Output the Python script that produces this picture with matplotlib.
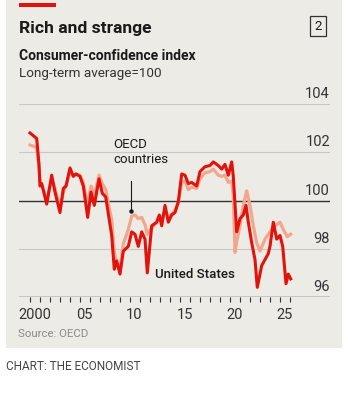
import matplotlib
matplotlib.use('Agg')
import matplotlib.pyplot as plt
import matplotlib.transforms as mtransforms
from matplotlib.patches import Rectangle

# readings (decimal year, index value)
us_years = [2000.0, 2000.67, 2000.9, 2001.0, 2001.17, 2001.67, 2002.17, 2002.5, 2003.0,
            2003.33, 2003.6, 2004.0, 2004.33, 2004.6, 2005.0, 2005.33, 2005.77, 2006.1,
            2006.43, 2006.9, 2007.23, 2007.57, 2008.17, 2008.43, 2008.67, 2009.0, 2009.33,
            2009.83, 2010.17, 2010.5, 2010.83, 2011.17, 2011.5, 2011.73, 2012.17, 2012.67,
            2012.93, 2013.17, 2013.5, 2013.83, 2014.17, 2014.5, 2014.83, 2015.17, 2015.5,
            2015.83, 2016.17, 2016.67, 2017.0, 2017.5, 2018.0, 2018.33, 2018.83, 2019.17,
            2019.5, 2019.83, 2020.17, 2020.33, 2020.67, 2021.0, 2021.33, 2021.6, 2021.83,
            2022.17, 2022.5, 2022.73, 2023.17, 2023.5, 2023.83, 2024.0, 2024.33, 2024.67,
            2025.0, 2025.27, 2025.6, 2025.83, 2026.07]
us_vals = [102.8, 102.57, 101.5, 100.6, 100.7, 99.85, 101.05, 100.35, 99.5,
           100.5, 100.6, 101.35, 101.0, 101.1, 101.0, 100.6, 99.3, 100.35,
           99.8, 100.9, 100.3, 100.15, 98.55, 97.15, 97.5, 96.95, 97.9,
           98.1, 98.7, 98.6, 98.1, 98.7, 98.4, 97.0, 98.95, 99.1,
           99.4, 98.95, 99.8, 99.1, 99.4, 99.5, 99.95, 101.1, 101.05,
           100.7, 100.75, 100.6, 101.2, 101.4, 101.45, 101.6, 101.45, 101.3,
           101.5, 101.05, 101.6, 101.0, 98.7, 99.25, 99.4, 99.8, 99.1,
           98.25, 97.55, 96.4, 97.3, 97.55, 97.8, 98.1, 99.1, 98.4,
           98.55, 98.1, 96.55, 96.95, 96.75]

oecd_years = [2000.0, 2000.67, 2000.9, 2001.0, 2001.17, 2001.67, 2002.17, 2002.5, 2003.0,
              2003.33, 2003.6, 2004.0, 2004.33, 2004.6, 2005.0, 2005.33, 2005.77, 2006.1,
              2006.43, 2006.9, 2007.23, 2007.57, 2008.17, 2008.43, 2008.67, 2009.0, 2009.33,
              2009.83, 2010.17, 2010.5, 2010.83, 2011.17, 2011.5, 2011.73, 2012.17, 2012.67,
              2012.93, 2013.17, 2013.5, 2013.83, 2014.17, 2014.5, 2014.83, 2015.17, 2015.5,
              2015.83, 2016.17, 2016.67, 2017.0, 2017.5, 2018.0, 2018.33, 2018.83, 2019.17,
              2019.5, 2019.83, 2020.17, 2020.33, 2020.5, 2020.67, 2021.0, 2021.33, 2021.67,
              2022.0, 2022.33, 2022.67, 2023.0, 2023.5, 2024.0, 2024.5, 2025.0, 2025.33,
              2025.73, 2026.07]
oecd_vals = [102.3, 102.2, 101.3, 100.8, 100.65, 100.0, 100.85, 100.5, 99.7,
             100.3, 100.6, 101.2, 101.05, 101.1, 101.05, 100.75, 99.8, 100.6,
             100.2, 101.05, 100.7, 100.45, 99.2, 97.9, 97.4, 97.2, 98.2,
             98.8, 99.35, 99.4, 99.25, 99.3, 99.0, 98.6, 98.85, 99.1,
             99.35, 99.15, 99.6, 99.3, 99.45, 99.6, 99.9, 100.75, 100.8,
             100.45, 100.55, 100.5, 100.9, 101.15, 101.2, 101.3, 101.05, 101.0,
             101.05, 100.75, 100.8, 100.2, 97.85, 98.3, 98.95, 99.8, 100.4,
             99.8, 98.95, 98.25, 97.9, 98.4, 98.7, 98.95, 99.1, 98.8,
             98.5, 98.6]

year_ticks = list(range(2000, 2027))
year_labels = {2000: '2000', 2005: '05', 2010: '10', 2015: '15', 2020: '20', 2025: '25'}
y_ticks = [96, 98, 100, 102, 104]

W, H = 348, 395
bg = '#ecebe5'
red = '#e3120b'
pale = '#f4a68d'
plt.rcParams['font.family'] = ['Roboto', 'DejaVu Sans']

fig = plt.figure(figsize=(W / 100, H / 100), dpi=100)
fig.patch.set_facecolor('white')

# background panel and red tag
fig.patches.append(Rectangle((6 / W, 1 - 348 / H), 336 / W, 348 / H, transform=fig.transFigure,
                             facecolor=bg, edgecolor='none', zorder=-2))
fig.patches.append(Rectangle((19 / W, 1 - 7 / H), 37 / W, 4.5 / H, transform=fig.transFigure,
                             facecolor=red, edgecolor='none', zorder=-1))

fig.text(19 / W, 1 - 29 / H, 'Rich and strange', fontsize=12.6, fontweight='bold',
         color='#1a1a1a', va='center', ha='left')
fig.text(19 / W, 1 - 56 / H, 'Consumer-confidence index', fontsize=10, fontweight='bold',
         color='#1a1a1a', va='center', ha='left')
fig.text(19 / W, 1 - 74 / H, 'Long-term average=100', fontsize=9.7,
         color='#333333', va='center', ha='left')
fig.text(318 / W, 1 - 26 / H, '2', fontsize=9.5, color='#1a1a1a', va='center', ha='center',
         bbox=dict(boxstyle='square,pad=0.3', facecolor='none', edgecolor='#333333', lw=0.9))
fig.text(18 / W, 1 - 334 / H, 'Source: OECD', fontsize=8.2, color='#8a8a8a',
         va='center', ha='left')
fig.text(6 / W, 1 - 367 / H, 'CHART: THE ECONOMIST', fontsize=8.5, color='#444444',
         va='center', ha='left')

ax = fig.add_axes([19 / W, 1 - 297 / H, 311 / W, 193 / H])
ax.set_zorder(2)
ax.set_facecolor('none')
ax.set_xlim(1998.9, 2030.0)
ax.set_ylim(96, 104)
for s in ax.spines.values():
    s.set_visible(False)

for v in y_ticks:
    if v == 96 or v == 100:
        ax.axhline(v, color='#333333', lw=1.0, zorder=1)
    else:
        ax.axhline(v, color='#c9c8c2', lw=0.8, zorder=1)

ax.plot(oecd_years, oecd_vals, color=pale, lw=2.3, zorder=3, solid_joinstyle='round')
ax.plot(us_years, us_vals, color=red, lw=2.2, zorder=4, solid_joinstyle='round')

ax.set_yticks([])
ax.set_xticks(year_ticks)
ax.set_xticklabels([])
ax.tick_params(axis='x', length=3.5, width=0.8, color='#333333', direction='out')
tr = mtransforms.blended_transform_factory(ax.transData, ax.transAxes)
for yr, lab in year_labels.items():
    ax.text(yr + 0.45, -0.055, lab, transform=tr, ha='center', va='top',
            fontsize=10.5, color='#333333')

ty = mtransforms.blended_transform_factory(ax.transAxes, ax.transData)
for v in y_ticks:
    ax.text(1.0, v + 0.12, str(v), transform=ty, ha='right', va='bottom',
            fontsize=10.5, color='#333333')

# annotations
ax.text(2008.3, 102.0, 'OECD\ncountries', ha='left', va='center', fontsize=9.5,
        color='#1a1a1a', linespacing=1.15)
ax.plot([2010.1, 2010.1], [100.8, 99.55], color='#1a1a1a', lw=0.8, zorder=5)
ax.plot([2010.1], [99.55], marker='o', ms=2.2, color='#1a1a1a', zorder=5)
ax.text(2016.5, 96.95, 'United States', ha='center', va='center', fontsize=9.5,
        fontweight='medium', color='#1a1a1a')

fig.savefig('out.png', dpi=100, facecolor='white')
